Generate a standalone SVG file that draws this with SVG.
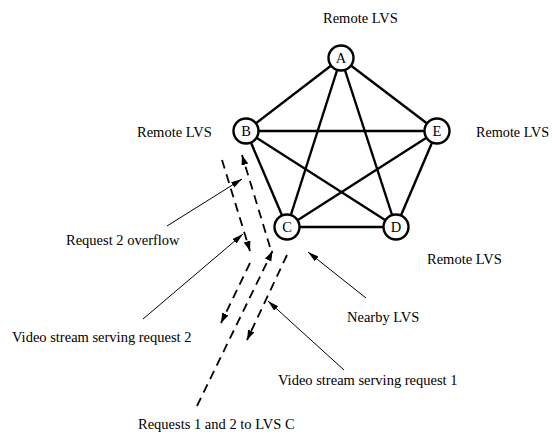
<svg xmlns="http://www.w3.org/2000/svg" width="553" height="432" viewBox="0 0 553 432">
<defs>
<style>
text{font-family:"Liberation Serif","Times New Roman",serif;font-size:14.5px;fill:#000}
.edge{stroke:#000;stroke-width:2.4;fill:none}
.node circle{fill:#fff;stroke:#000;stroke-width:2.4}
.node text{text-anchor:middle}
.dash{stroke:#000;stroke-width:1.8;stroke-dasharray:9 6;fill:none}
.ptr{stroke:#000;stroke-width:1;fill:none}
</style>
<marker id="ah" markerUnits="userSpaceOnUse" markerWidth="12" markerHeight="8" refX="10" refY="3.5" orient="auto"><path d="M0,0 L10,3.5 L0,7 z" fill="#000" stroke="none"/></marker>
<marker id="ph" markerUnits="userSpaceOnUse" markerWidth="12" markerHeight="8" refX="11" refY="3" orient="auto"><path d="M0,0 L11,3 L0,6 z" fill="#000" stroke="none"/></marker>
</defs>
<g id="edges">
<line class="edge" x1="341" y1="58" x2="246" y2="131"/>
<line class="edge" x1="341" y1="58" x2="437" y2="131"/>
<line class="edge" x1="341" y1="58" x2="287" y2="227"/>
<line class="edge" x1="341" y1="58" x2="396" y2="227"/>
<line class="edge" x1="246" y1="131" x2="437" y2="131"/>
<line class="edge" x1="246" y1="131" x2="287" y2="227"/>
<line class="edge" x1="246" y1="131" x2="396" y2="227"/>
<line class="edge" x1="437" y1="131" x2="287" y2="227"/>
<line class="edge" x1="437" y1="131" x2="396" y2="227"/>
<line class="edge" x1="287" y1="227" x2="396" y2="227"/>
</g>
<g id="node-A" class="node"><circle cx="341" cy="58" r="12.5"/><text x="341" y="63">A</text></g>
<g id="node-B" class="node"><circle cx="246" cy="131" r="12.5"/><text x="246" y="136">B</text></g>
<g id="node-E" class="node"><circle cx="437" cy="131" r="12.5"/><text x="437" y="136">E</text></g>
<g id="node-C" class="node"><circle cx="287" cy="227" r="12.5"/><text x="287" y="232">C</text></g>
<g id="node-D" class="node"><circle cx="396" cy="227" r="12.5"/><text x="396" y="232">D</text></g>
<g id="connectors">
<line class="dash" x1="222" y1="160" x2="250" y2="251" marker-end="url(#ah)"/>
<line class="dash" x1="270" y1="247" x2="242" y2="155" marker-end="url(#ah)"/>
<line class="dash" x1="250" y1="263" x2="221" y2="323" marker-end="url(#ah)"/>
<line class="dash" x1="197" y1="406" x2="272.5" y2="251" marker-end="url(#ah)"/>
<line class="dash" x1="287" y1="255" x2="247" y2="340" marker-end="url(#ah)"/>
<line class="ptr" x1="167" y1="226" x2="242" y2="179" marker-end="url(#ph)"/>
<line class="ptr" x1="143" y1="319" x2="243" y2="234" marker-end="url(#ph)"/>
<line class="ptr" x1="366" y1="298" x2="308" y2="252" marker-end="url(#ph)"/>
<line class="ptr" x1="344" y1="370" x2="268" y2="301" marker-end="url(#ph)"/>
</g>
<g id="labels">
<text x="323" y="23">Remote LVS</text>
<text x="137" y="137">Remote LVS</text>
<text x="476" y="137" style="font-size:14.2px">Remote LVS</text>
<text x="427" y="264">Remote LVS</text>
<text x="66" y="245">Request 2 overflow</text>
<text x="12" y="342">Video stream serving request 2</text>
<text x="278" y="385">Video stream serving request 1</text>
<text x="347" y="322">Nearby LVS</text>
<text x="138" y="429">Requests 1 and 2 to LVS C</text>
</g>
</svg>
